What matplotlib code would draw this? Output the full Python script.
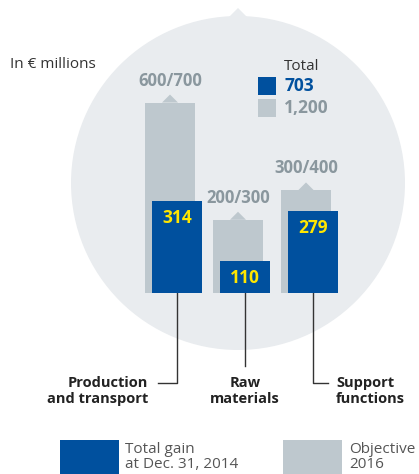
import matplotlib
matplotlib.use("Agg")
import matplotlib.pyplot as plt
from matplotlib.patches import Circle, Polygon, Rectangle
import numpy as np

# valeurs (en millions d'euros)
categories = ["Production\nand transport", "Raw\nmaterials", "Support\nfunctions"]
gain_2014 = [314, 110, 279]
objectif_lbl = ["600/700", "200/300", "300/400"]
objectif_mid = [650, 250, 350]
total_gain, total_obj = "703", "1,200"

BLUE = "#00509e"
GREY_BAR = "#bec8ce"
GREY_TXT = "#8a979e"
CIRCLE = "#e9ecef"
DARK = "#333333"
YELLOW = "#ffe600"

plt.rcParams["font.family"] = ["Open Sans", "DejaVu Sans"]

W, H = 419, 474
fig = plt.figure(figsize=(W / 100, H / 100), dpi=100)

# fond en coordonnées pixel
bg = fig.add_axes([0, 0, 1, 1])
bg.set_xlim(0, W)
bg.set_ylim(H, 0)
bg.axis("off")
bg.add_patch(Circle((238, 183), 167, color=CIRCLE, lw=0))
bg.add_patch(Polygon([(229, 17), (238, 8), (247, 17)], color=CIRCLE, lw=0))

# barres : 0 à y=293 px, 0.293 px par million
base_px = 293
ax = fig.add_axes([0, (H - base_px) / H, 1, base_px / H])
ax.set_xlim(0, W)
ax.set_ylim(0, 1000)
ax.axis("off")
ax.patch.set_alpha(0)

ind = np.arange(len(categories))
x_obj = 170 + 68 * ind
x_gain = x_obj + 7
width = 50
upx = 1000 / base_px  # unités par pixel

ax.bar(x_obj, objectif_mid, width, color=GREY_BAR, lw=0)
ax.bar(x_gain, gain_2014, width, color=BLUE, lw=0)

for x, v, lbl in zip(x_obj, objectif_mid, objectif_lbl):
    ax.add_patch(Polygon([(x - 8, v), (x, v + 8 * upx), (x + 8, v)],
                         color=GREY_BAR, lw=0))
    ax.text(x, v + 22 * upx, lbl, ha="center", va="center",
            color=GREY_TXT, fontsize=12, fontweight="bold")

for x, v in zip(x_gain, gain_2014):
    ax.text(x, v - 17 * upx, str(v), ha="center", va="center",
            color=YELLOW, fontsize=12.5, fontweight="bold")

# traits de rappel et libellés
lc = dict(color=DARK, lw=1)
bg.plot([x_gain[0], x_gain[0], 158], [base_px, 383, 383], **lc)
bg.plot([x_gain[1], x_gain[1]], [base_px, 366], **lc)
bg.plot([x_gain[2], x_gain[2], 328], [base_px, 383, 383], **lc)
txt = dict(fontsize=10.5, fontweight="bold", color="#222222", va="center",
           linespacing=1.1)
bg.text(148, 391, categories[0], ha="right", multialignment="right", **txt)
bg.text(245, 391, categories[1], ha="center", multialignment="center", **txt)
bg.text(336, 391, categories[2], ha="left", multialignment="left", **txt)

bg.text(10, 64, "In € millions", fontsize=11, color=DARK, va="center")

# légende totaux
bg.text(284, 66, "Total", fontsize=11, color=DARK, va="center")
bg.add_patch(Rectangle((258, 77), 18, 18, color=BLUE, lw=0))
bg.text(284, 86, total_gain, fontsize=12.5, color=BLUE, fontweight="bold", va="center")
bg.add_patch(Rectangle((258, 99), 18, 18, color=GREY_BAR, lw=0))
bg.text(284, 108, total_obj, fontsize=12.5, color=GREY_TXT, fontweight="bold", va="center")

# légende du bas
bg.add_patch(Rectangle((60, 440), 59, 40, color=BLUE, lw=0))
bg.text(125, 457, "Total gain\nat Dec. 31, 2014", fontsize=11, color="#555555",
        va="center", linespacing=0.95)
bg.add_patch(Rectangle((283, 440), 59, 40, color=GREY_BAR, lw=0))
bg.text(349, 457, "Objective\n2016", fontsize=11, color="#555555",
        va="center", linespacing=0.95)

fig.savefig("out.png", dpi=100)
